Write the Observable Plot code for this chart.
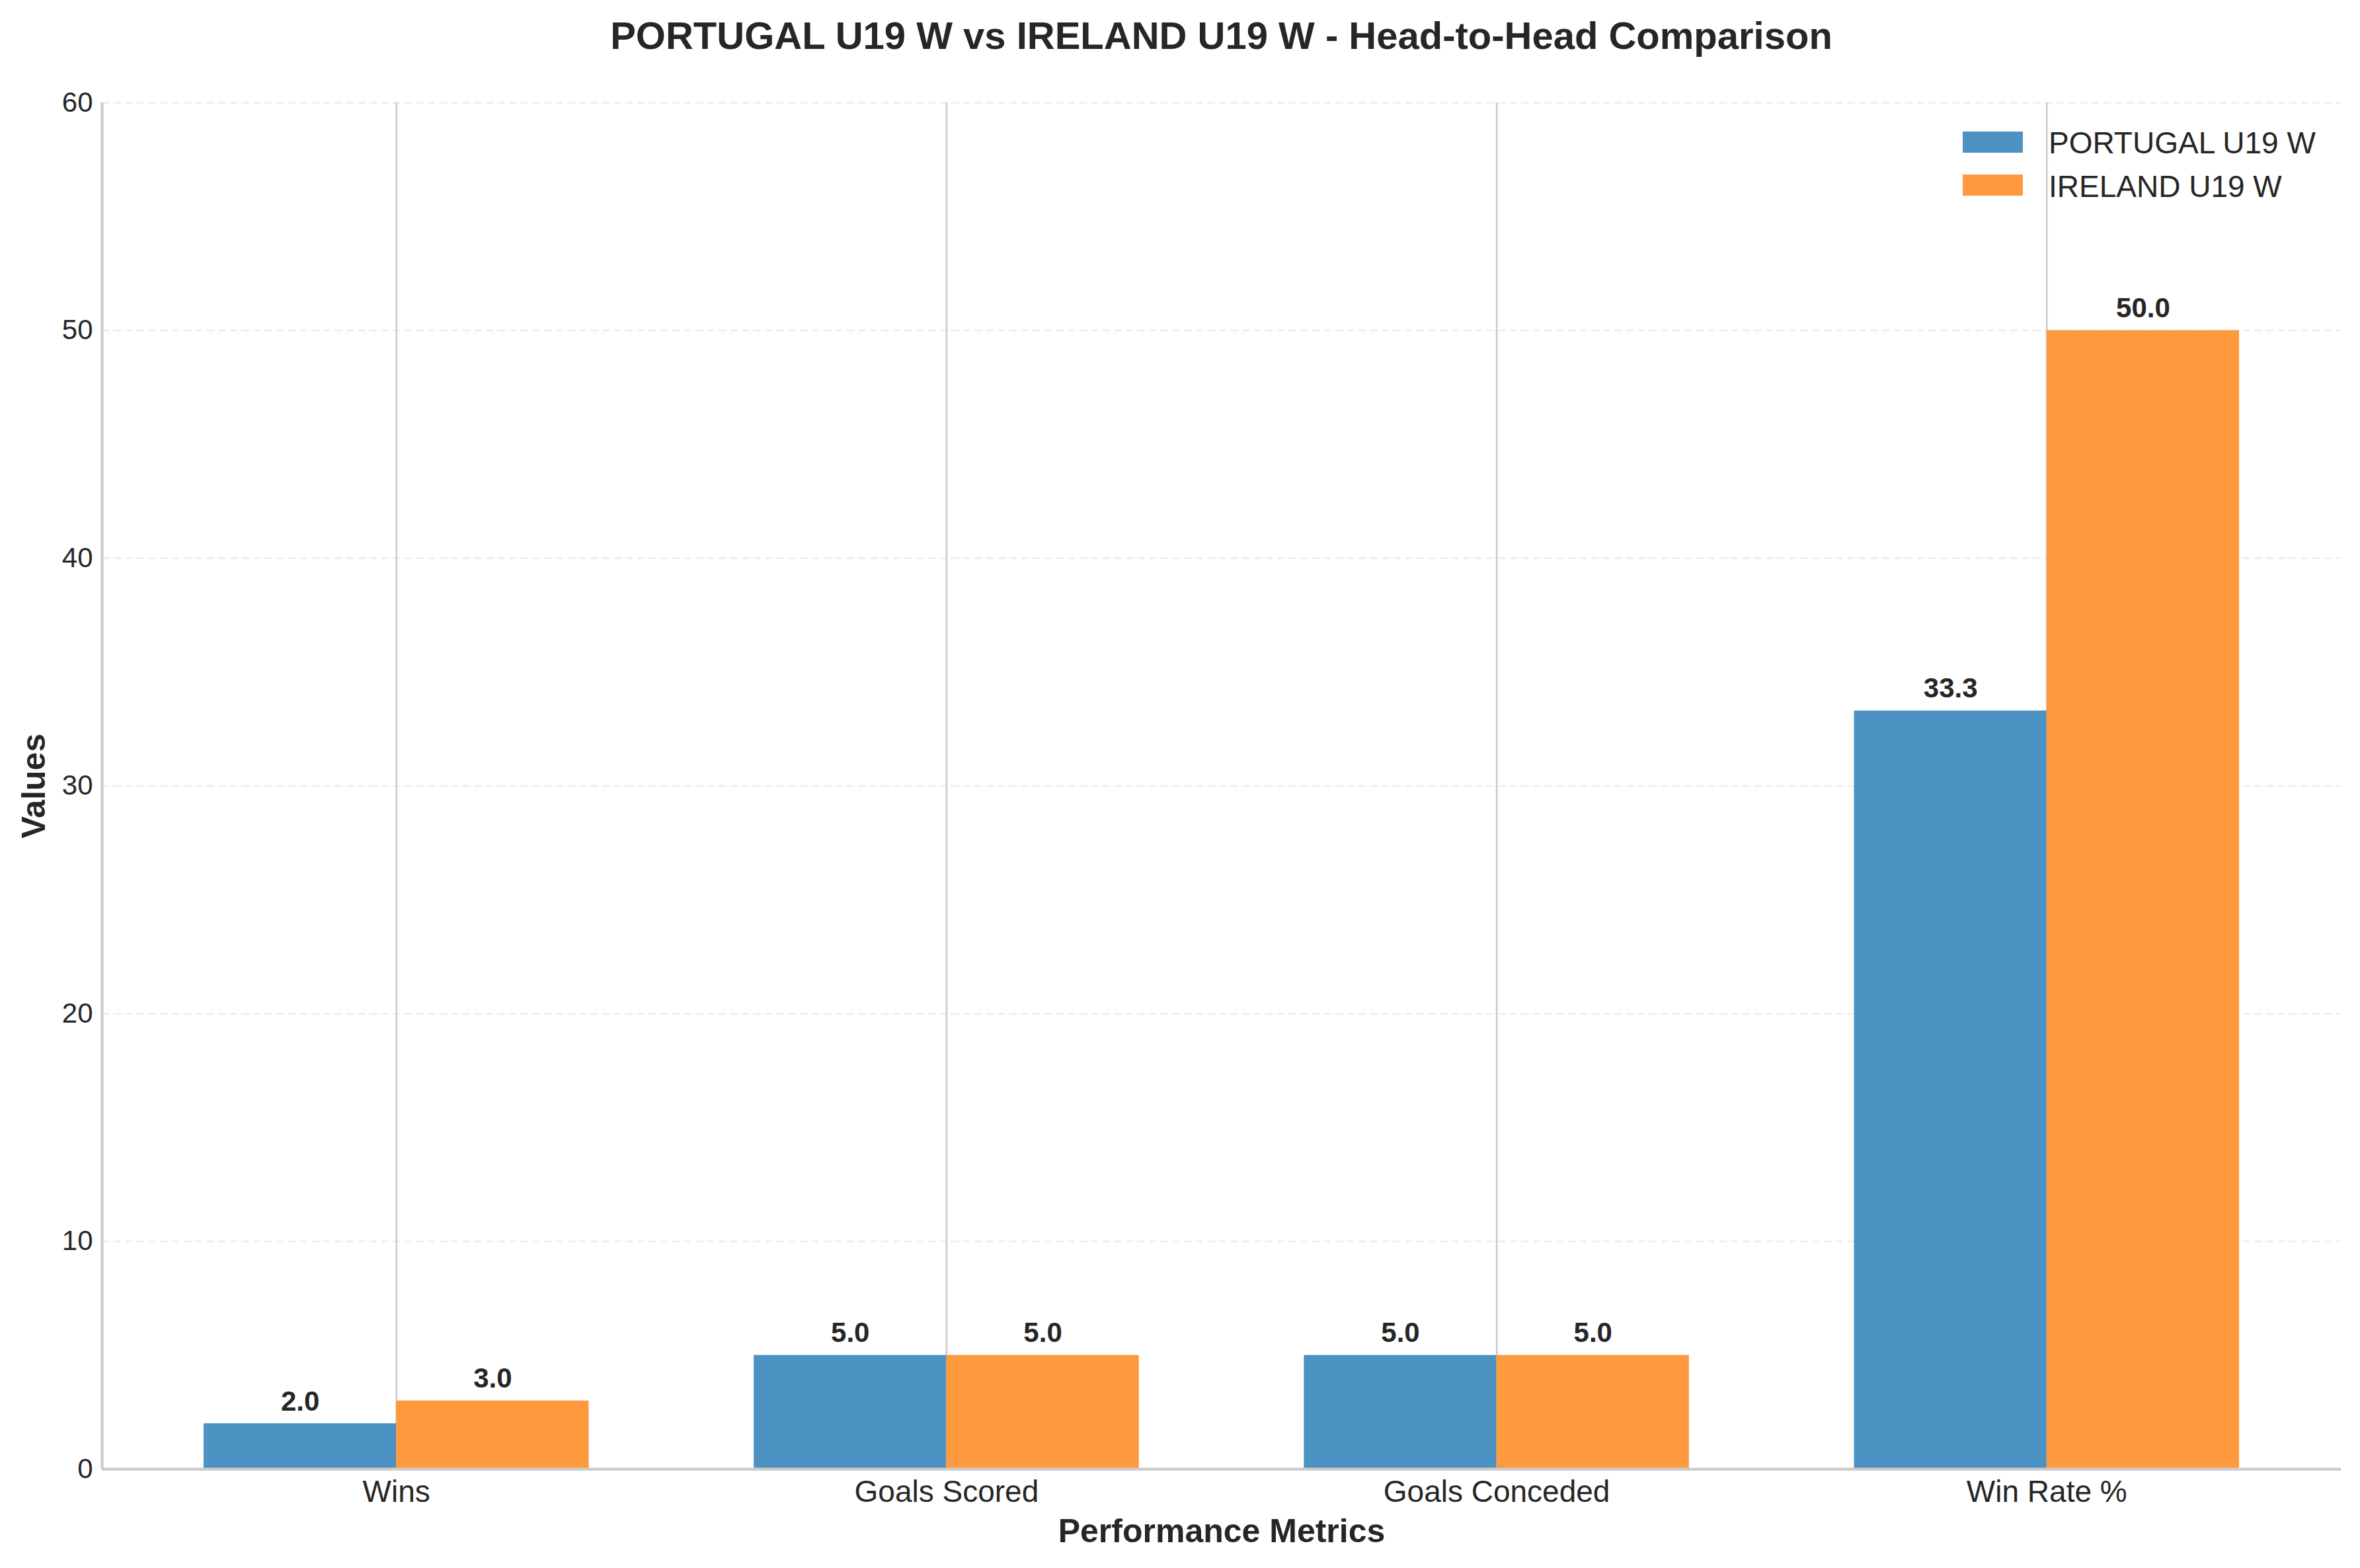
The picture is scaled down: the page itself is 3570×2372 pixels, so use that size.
<!DOCTYPE html>
<html>
<head>
<meta charset="utf-8">
<script src="https://cdn.jsdelivr.net/npm/d3@7"></script>
<script src="https://cdn.jsdelivr.net/npm/@observablehq/plot@0.6"></script>
<style>
  html, body { margin: 0; padding: 0; background: #ffffff; }
  #wrap { position: relative; width: 3570px; height: 2372px; font-family: "Liberation Sans", Arial, sans-serif; color: #262626; }
  #title { height: 100px; position: relative; }
  #title span { position: absolute; left: 154px; width: 3387px; top: 20px; text-align: center; font-size: 58px; font-weight: bold; line-height: normal; white-space: nowrap; }
  .sw { position: absolute; width: 91px; height: 32px; }
  .lt { position: absolute; font-size: 46px; line-height: normal; white-space: nowrap; }
  svg { display: block; }
</style>
</head>
<body>
<div id="wrap">
  <div id="title"><span>PORTUGAL U19 W vs IRELAND U19 W - Head-to-Head Comparison</span></div>
  <div id="chart"></div>
</div>
<script>
// ---- data ----
const categories = ["Wins", "Goals Scored", "Goals Conceded", "Win Rate %"];
const teams = ["PORTUGAL U19 W", "IRELAND U19 W"];
const portugal = [2, 5, 5, 33.3];
const ireland = [3, 5, 5, 50];
const yTicks = [0, 10, 20, 30, 40, 50, 60];
const colors = ["#4C92C3", "#FF993E"];

// ---- build table ----
const barWidth = 0.35;
const rows = [];
categories.forEach((c, i) => {
  rows.push({i, cat: c, team: teams[0], value: portugal[i], x1: i - barWidth, x2: i});
  rows.push({i, cat: c, team: teams[1], value: ireland[i], x1: i, x2: i + barWidth});
});
const span = categories.length - 1 + 2 * barWidth;
const xDomain = [-barWidth - 0.05 * span, categories.length - 1 + barWidth + 0.05 * span];
const xTicks = categories.map((_, i) => i);
const font = "'Liberation Sans', Arial, sans-serif";

const chart = Plot.plot({
  width: 3570,
  height: 2272,
  marginLeft: 154,
  marginRight: 29,
  marginTop: 55,
  marginBottom: 150,
  style: {fontFamily: font, background: "#ffffff", color: "#262626"},
  x: {type: "linear", domain: xDomain},
  y: {domain: [0, 60]},
  color: {domain: teams, range: colors},
  marks: [
    Plot.gridY(yTicks, {stroke: "#cccccc", strokeOpacity: 0.35, strokeWidth: 2.7, strokeDasharray: "11.7,5.9"}),
    Plot.gridX(xTicks, {stroke: "#cccccc", strokeOpacity: 1, strokeWidth: 2.7}),
    Plot.rect(rows, {x1: "x1", x2: "x2", y1: d => 0, y2: "value", fill: "team"}),
    Plot.text(rows, {x: d => (d.x1 + d.x2) / 2, y: "value", text: d => d.value.toFixed(1), dy: -20, lineAnchor: "bottom", fontSize: 42, fontWeight: "bold", fill: "#262626"}),
    Plot.ruleY([0], {stroke: "#cccccc", strokeWidth: 4.3}),
    Plot.ruleX([xDomain[0]], {stroke: "#cccccc", strokeWidth: 4.3}),
    Plot.axisY({ticks: yTicks, tickSize: 0, tickPadding: 14, fontSize: 42, label: null, fill: "#262626"}),
    Plot.axisX({ticks: xTicks, tickFormat: i => categories[i], tickSize: 0, tickPadding: 17, fontSize: 46, label: null, fill: "#262626"}),
    Plot.text(["Values"], {frameAnchor: "left", textAnchor: "middle", rotate: -90, dx: -87, lineAnchor: "bottom", fontSize: 50, fontWeight: "bold", fill: "#262626", text: d => d}),
    Plot.text(["Performance Metrics"], {frameAnchor: "bottom", textAnchor: "middle", dy: 110, lineAnchor: "bottom", fontSize: 50, fontWeight: "bold", fill: "#262626", text: d => d})
  ]
});
document.getElementById("chart").appendChild(chart);

// ---- legend (HTML overlay) ----
const wrap = document.getElementById("wrap");
teams.forEach((t, k) => {
  const sw = document.createElement("div");
  sw.className = "sw";
  sw.style.left = "2969px";
  sw.style.top = (199 + k * 65) + "px";
  sw.style.background = colors[k];
  wrap.appendChild(sw);
  const lt = document.createElement("div");
  lt.className = "lt";
  lt.style.left = "3099px";
  lt.style.top = (189 + k * 66) + "px";
  lt.textContent = t;
  wrap.appendChild(lt);
});
</script>
</body>
</html>
